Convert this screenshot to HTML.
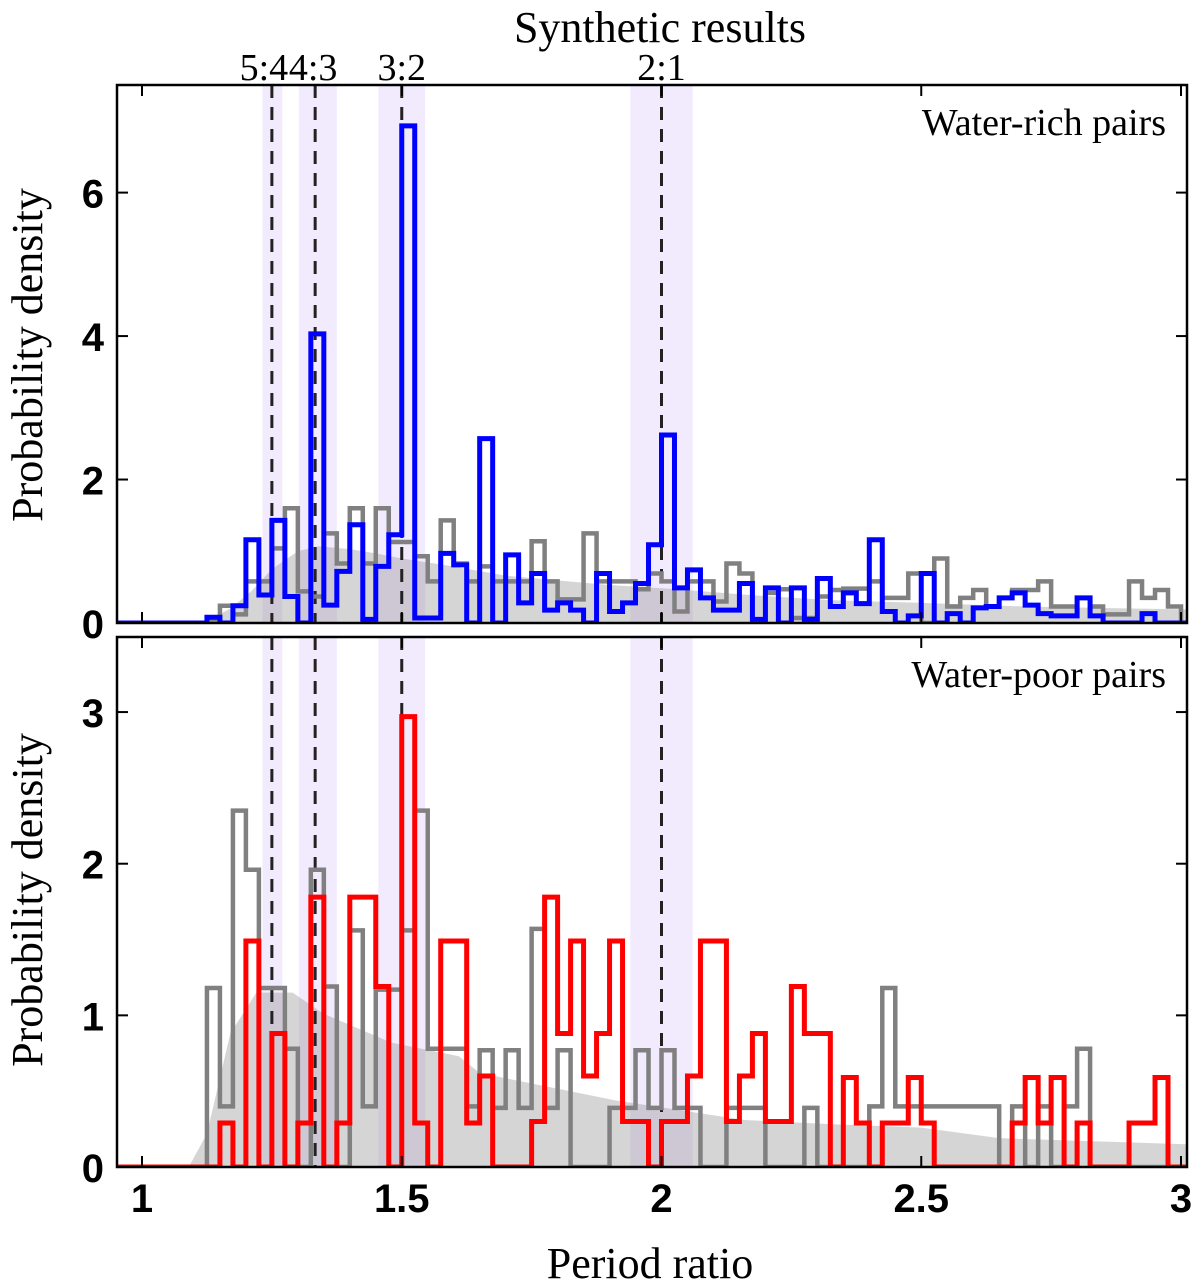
<!DOCTYPE html>
<html><head><meta charset="utf-8"><style>
html,body{margin:0;padding:0;background:#fff;}
svg{display:block;}
.serif{font-family:"Liberation Serif",serif;}
.sans{font-family:"Liberation Sans",sans-serif;font-weight:bold;}
</style></head><body>
<svg id="chart" width="1200" height="1287" viewBox="0 0 1200 1287" xmlns="http://www.w3.org/2000/svg">
<g id="top-panel"></g>
<g id="bottom-panel"></g>
<text class="serif" x="660" y="42" font-size="44" text-anchor="middle">Synthetic results</text>
<text class="serif" x="650" y="1278" font-size="44" text-anchor="middle">Period ratio</text>
<text class="serif" transform="translate(42,355) rotate(-90)" font-size="44" text-anchor="middle">Probability density</text>
<text class="serif" transform="translate(42,900) rotate(-90)" font-size="44" text-anchor="middle">Probability density</text>
</svg>
<script>
const binStart = 1.0;
const binWidth = 0.025;
const blueRich = [0,0,0,0,0,0.08,0,0.24,1.16,0.39,1.43,0.37,0,4.03,0.25,0.72,1.37,0.05,0.79,1.23,6.93,0.07,0.07,0.97,0.81,0,2.57,0,0.95,0.28,0.69,0.18,0.28,0.18,0,0.69,0.16,0.28,0.55,1.09,2.62,0.49,0.74,0.35,0.18,0.18,0.55,0.05,0.49,0,0.49,0.05,0.62,0.23,0.42,0.27,1.16,0.16,0,0.1,0.69,0,0.13,0,0.21,0.23,0.35,0.42,0.25,0.13,0.1,0.1,0.35,0.1,0,0,0,0.13,0,0];
const grayRich = [0,0,0,0,0,0.05,0.24,0.12,0.58,0.58,1.04,1.6,0.44,0.37,1.25,0.83,1.6,0.83,1.6,1.13,1.13,0.93,0.58,1.43,0.83,0.58,0.79,0.58,0.58,0.58,1.14,0.58,0.33,0.33,1.25,0.58,0.58,0.58,0.47,0.69,0.58,0.16,0.58,0.58,0.3,0.83,0.69,0.05,0.42,0.47,0.07,0.07,0.37,0.46,0.48,0.48,0.58,0.35,0.35,0.69,0,0.9,0.23,0.35,0.46,0.23,0.35,0.46,0.46,0.58,0.23,0.23,0.35,0.23,0.12,0.12,0.58,0.35,0.46,0.23];
const redPoor = [0,0,0,0,0,0,0.29,0,1.49,0,0.88,0,0.29,1.78,0,0.29,1.78,1.78,1.19,0,2.97,0.29,0,1.49,1.49,0.29,0.6,0,0,0,0.3,1.78,0.88,1.49,0.6,0.88,1.49,0.3,0.3,0,0.3,0.3,0.6,1.49,1.49,0.3,0.6,0.88,0.3,0.3,1.19,0.88,0.88,0,0.59,0.29,0,0.29,0.29,0.59,0.29,0,0,0,0,0,0,0.29,0.59,0.29,0.59,0,0.29,0,0,0,0.29,0.29,0.59,0];
const grayPoor = [0,0,0,0,0,1.18,0.4,2.35,1.96,1.18,1.18,0.78,0,1.96,1.19,0,1.56,0.4,1.17,1.17,1.56,2.35,0.78,0.78,0.78,0.4,0.77,0.39,0.77,0.39,1.57,0.39,0.77,0,0,0,0.39,0.39,0.77,0.39,0.77,0.39,0.39,0,0,0.39,0.39,0.39,0,0,0,0.39,0,0,0,0,0.4,1.18,0.4,0.4,0.4,0.4,0.4,0.4,0.4,0.4,0,0.4,0,0.4,0,0.4,0.78,0,0,0,0,0,0,0];
const densRichX = [1.1,1.13,1.17,1.21,1.25,1.3,1.34,1.4,1.45,1.5,1.59,1.63,1.7,1.82,1.9,2.03,2.15,2.32,2.5,2.7,3.0];
const densRichY = [0,0.05,0.2,0.44,0.75,1.0,1.07,1.03,0.97,0.9,0.8,0.75,0.66,0.58,0.53,0.47,0.4,0.32,0.28,0.23,0.19];
const densPoorX = [1.09,1.125,1.17,1.22,1.29,1.35,1.48,1.61,1.65,1.91,2.16,2.34,2.5,2.65,3.01];
const densPoorY = [0,0.22,0.88,1.15,1.15,1.01,0.82,0.73,0.62,0.44,0.31,0.28,0.26,0.19,0.15];
const resonances = [1.25,1.3333,1.5,2.0];
const resonanceLabels = ["5:4","4:3","3:2","2:1"];
const bandLo = [1.232,1.302,1.455,1.94];
const bandHi = [1.27,1.375,1.545,2.06];
const xTicks = [1,1.5,2,2.5,3];
const xTickLabels = ["1","1.5","2","2.5","3"];
const topYTicks = [0,2,4,6];
const botYTicks = [0,1,2,3];

const NS = "http://www.w3.org/2000/svg";
const L = 117, R = 1187;
const xs = v => 142 + 519.5 * (v - 1);
function mk(parent, tag, attrs){ const e = document.createElementNS(NS, tag); for (const k in attrs) e.setAttribute(k, attrs[k]); parent.appendChild(e); return e; }

function stepPath(vals, ys){
  let d = "M" + L + "," + ys(0);
  let prevY = ys(0);
  d += " L" + xs(binStart) + "," + prevY;
  for (let i = 0; i < vals.length; i++){
    const x0 = xs(binStart + i*binWidth), x1 = xs(binStart + (i+1)*binWidth), y = ys(vals[i]);
    d += " L" + x0 + "," + y + " L" + x1 + "," + y;
  }
  d += " L" + xs(binStart + vals.length*binWidth) + "," + ys(0) + " L" + R + "," + ys(0);
  return d;
}

function panel(gId, top, bottom, vmax, yTicks, dX, dY, hist, col, histName, label, labelName, showResLabels){
  const g = document.getElementById(gId);
  const ys = v => bottom - (bottom - top) * v / vmax;
  const clipId = gId + "-clip";
  const cp = mk(g, "clipPath", {id: clipId});
  mk(cp, "rect", {x: L, y: top, width: R - L, height: bottom - top});
  const inner = mk(g, "g", {"clip-path": "url(#" + clipId + ")"});
  for (let i = 0; i < bandLo.length; i++){
    const b = mk(inner, "rect", {x: xs(bandLo[i]), y: top, width: xs(bandHi[i]) - xs(bandLo[i]), height: bottom - top, fill: "#f2eafd"});
    
    
  }
  let d = "M" + xs(dX[0]) + "," + ys(0);
  for (let i = 0; i < dX.length; i++) d += " L" + xs(dX[i]) + "," + ys(dY[i]);
  d += " L" + R + "," + ys(dY[dY.length-1]) + " L" + R + "," + ys(0) + " Z";
  const f = mk(inner, "path", {d: d, fill: "rgba(150,150,150,0.4)"});
  
  
  for (let i = 0; i < resonances.length; i++){
    const l = mk(inner, "line", {x1: xs(resonances[i]), x2: xs(resonances[i]), y1: top, y2: bottom, stroke: "#222", "stroke-width": 3, "stroke-dasharray": "13,9"});
    
    
  }
  const gp = mk(inner, "path", {d: stepPath(hist[0], ys), fill: "none", stroke: "#808080", "stroke-width": 4.5, "stroke-linejoin": "miter"});
  
  
  const cpth = mk(inner, "path", {d: stepPath(hist[1], ys), fill: "none", stroke: col, "stroke-width": 5, "stroke-linejoin": "miter"});
  
  
  const fr = mk(g, "rect", {x: L, y: top, width: R - L, height: bottom - top, fill: "none", stroke: "#000", "stroke-width": 2.5});
  
  
  for (let i = 0; i < xTicks.length; i++){
    const x = xs(xTicks[i]);
    const t1 = mk(g, "line", {x1: x, x2: x, y1: bottom, y2: bottom - 11, stroke: "#000", "stroke-width": 2});
    
    
    const t2 = mk(g, "line", {x1: x, x2: x, y1: top, y2: top + 11, stroke: "#000", "stroke-width": 2});
    
    
  }
  for (let i = 0; i < yTicks.length; i++){
    const y = ys(yTicks[i]);
    const t1 = mk(g, "line", {x1: L, x2: L + 11, y1: y, y2: y, stroke: "#000", "stroke-width": 2});
    
    
    const t2 = mk(g, "line", {x1: R, x2: R - 11, y1: y, y2: y, stroke: "#000", "stroke-width": 2});
    
    
    const tl = mk(g, "text", {x: 104, y: y + 15, "font-size": 40, "text-anchor": "end", class: "sans"});
    tl.textContent = String(yTicks[i]);
    
    
  }
  const lab = mk(g, "text", {x: 1166, y: top + 50, "font-size": 38, "text-anchor": "end", class: "serif"});
  lab.textContent = label;
  
  
  if (showResLabels){
    const offs = [-8,-2,0,0];
    for (let i = 0; i < resonances.length; i++){
      const t = mk(g, "text", {x: xs(resonances[i]) + offs[i], y: 80, "font-size": 38, "text-anchor": "middle", class: "serif"});
      t.textContent = resonanceLabels[i];
      
      
    }
  } else {
    for (let i = 0; i < xTicks.length; i++){
      const t = mk(g, "text", {x: xs(xTicks[i]), y: bottom + 45, "font-size": 40, "text-anchor": "middle", class: "sans"});
      t.textContent = xTickLabels[i];
      
      
    }
  }
}
panel("top-panel", 85, 623, 7.5, topYTicks, densRichX, densRichY, [grayRich, blueRich], "#0000ff", "water-rich-histogram", "Water-rich pairs", "water-rich-label", true);
panel("bottom-panel", 637, 1167, 3.495, botYTicks, densPoorX, densPoorY, [grayPoor, redPoor], "#ff0000", "water-poor-histogram", "Water-poor pairs", "water-poor-label", false);
</script>
</body></html>
